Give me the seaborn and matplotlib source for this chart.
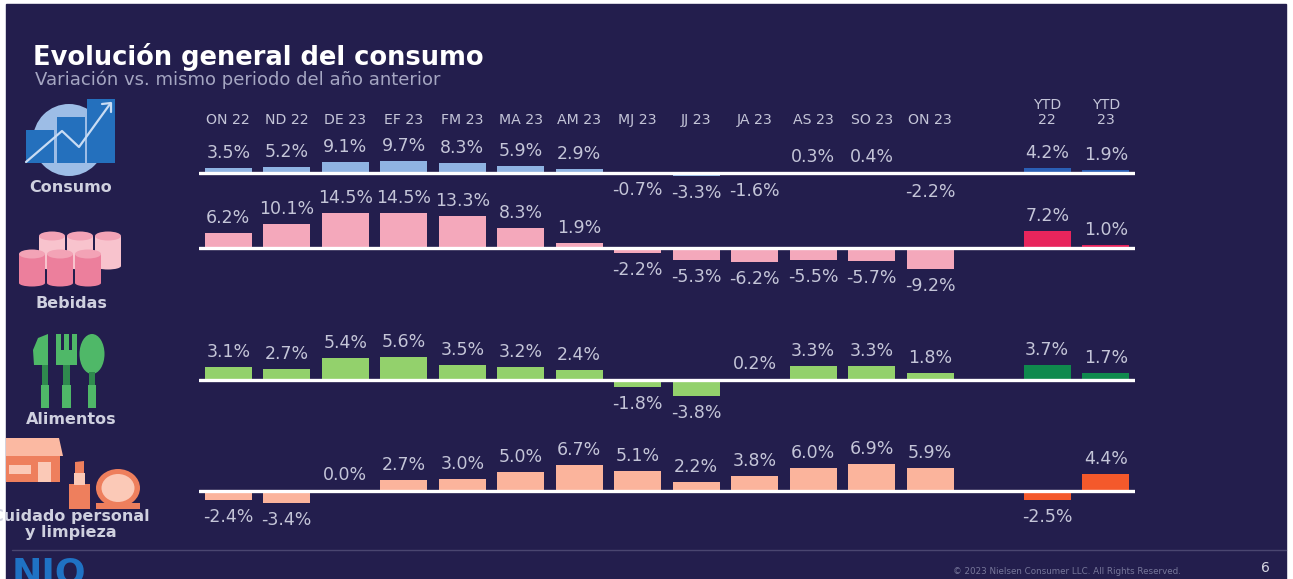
import numpy as np
import pandas as pd
import seaborn as sns
import matplotlib.pyplot as plt
from matplotlib.patches import Rectangle, Circle, Ellipse, Polygon

periodos = ['ON 22', 'ND 22', 'DE 23', 'EF 23', 'FM 23', 'MA 23', 'AM 23', 'MJ 23', 'JJ 23', 'JA 23',
            'AS 23', 'SO 23', 'ON 23', ' ', 'YTD\n22', 'YTD\n23']
consumo = [3.5, 5.2, 9.1, 9.7, 8.3, 5.9, 2.9, -0.7, -3.3, -1.6, 0.3, 0.4, -2.2, np.nan, 4.2, 1.9]
bebidas = [6.2, 10.1, 14.5, 14.5, 13.3, 8.3, 1.9, -2.2, -5.3, -6.2, -5.5, -5.7, -9.2, np.nan, 7.2, 1.0]
alimentos = [3.1, 2.7, 5.4, 5.6, 3.5, 3.2, 2.4, -1.8, -3.8, 0.2, 3.3, 3.3, 1.8, np.nan, 3.7, 1.7]
cuidado = [-2.4, -3.4, 0.0, 2.7, 3.0, 5.0, 6.7, 5.1, 2.2, 3.8, 6.0, 6.9, 5.9, np.nan, -2.5, 4.4]

W, H = 1293, 579
FONDO = '#231e4d'
TEXTO = '#c4c5d8'

sns.set_theme(style='white')
plt.rcParams['font.family'] = ['DejaVu Sans']

fig = plt.figure(figsize=(W / 100, H / 100), dpi=100, facecolor='white')

# capa de fondo en pixeles, para panel, iconos y textos sueltos
bg = fig.add_axes([0, 0, 1, 1], zorder=0)
bg.set_xlim(0, W)
bg.set_ylim(H, 0)
bg.axis('off')
bg.add_patch(Rectangle((6, 4), 1280, 575, color=FONDO, zorder=0))
panel = Rectangle((6, 4), 1280, 575, transform=bg.transData)


def caja(x0, y0, x1, y1, color, z=2):
    bg.add_patch(Rectangle((x0, y0), x1 - x0, y1 - y0, color=color, lw=0, zorder=z))


def cilindro(cx, y0, y1, color, tapa):
    caja(cx - 13, y0, cx + 13, y1, color)
    bg.add_patch(Ellipse((cx, y1), 26, 7, color=color, lw=0, zorder=2))
    bg.add_patch(Ellipse((cx, y0), 26, 9, color=tapa, lw=0, zorder=2))


# icono consumo
bg.add_patch(Circle((69, 140), 36, color='#9dbde6', lw=0, zorder=1))
caja(26, 130, 54, 163, '#2470bd')
caja(57, 117, 85, 163, '#2470bd')
caja(87, 99, 115, 163, '#2470bd')
bg.plot([26, 62, 79, 110], [162, 131, 147, 104], color='#c9dcf3', lw=1.6, zorder=3)
bg.plot([102, 111, 111], [104, 103, 112], color='#c9dcf3', lw=1.6, zorder=3)

# icono bebidas
for cx in [52, 80, 108]:
    cilindro(cx, 236, 266, '#f8c3cd', '#f3a3b6')
for cx in [32, 60, 88]:
    cilindro(cx, 254, 283, '#ec7f9c', '#f3a3b6')

# icono alimentos
verde, verde2 = '#4fb868', '#2f8a4e'
bg.add_patch(Polygon([[48, 334], [48, 365], [34, 365], [33, 350], [38, 338]], color=verde, lw=0, zorder=2))
caja(42, 365, 48, 385, verde2)
caja(41, 385, 49, 408, verde)
caja(56, 350, 77, 365, verde)
for x0 in [56, 64, 72]:
    caja(x0, 334, x0 + 5, 352, verde)
caja(63, 365, 70, 385, verde2)
caja(62, 385, 71, 408, verde)
bg.add_patch(Ellipse((92, 354), 25, 40, color=verde, lw=0, zorder=2))
caja(89, 372, 95, 386, verde2)
caja(88, 385, 96, 408, verde)

# icono cuidado personal
naranja = '#ee7f5d'
bg.add_patch(Polygon([[6, 438], [59, 438], [63, 456], [6, 456]], color='#fbb9a2', lw=0, zorder=2))
caja(6, 456, 60, 482, naranja)
caja(9, 465, 31, 474, '#fbc9b7', 3)
caja(38, 462, 51, 482, '#fbc9b7', 3)
caja(69, 484, 90, 509, naranja)
caja(74, 473, 85, 485, '#fbc9b7')
bg.add_patch(Polygon([[75, 473], [75, 462], [84, 461], [84, 473]], color=naranja, lw=0, zorder=2))
bg.add_patch(Ellipse((118, 488), 44, 38, color=naranja, lw=0, zorder=2))
bg.add_patch(Ellipse((118, 488), 33, 28, color='#fbc9b7', lw=0, zorder=3))
caja(96, 503, 140, 509, naranja, 3)

bg.text(33, 57, 'Evolución general del consumo', color='white', fontsize=18.5, fontweight='bold', va='center')
bg.text(35, 80, 'Variación vs. mismo periodo del año anterior', color='#a5a6c2', fontsize=13, va='center')
for y, nombre in [(187, 'Consumo'), (304, 'Bebidas'), (420, 'Alimentos'), (517, 'Cuidado personal'), (533, 'y limpieza')]:
    t = bg.text(71, y, nombre, color='#cfd0df', fontsize=11.5, fontweight='bold', ha='center', va='center')
    t.set_clip_path(panel)

bg.plot([12, 1286], [550, 550], color='#4a4670', lw=1)
t = bg.text(12, 574, 'NIQ', color='#1f72c4', fontsize=26, fontweight='bold', va='center')
t.set_clip_path(panel)
bg.text(953, 572, '© 2023 Nielsen Consumer LLC. All Rights Reserved.', color='#77779a', fontsize=6.3, va='center')
bg.text(1265, 568, '6', color='#d8d8e4', fontsize=10, ha='center', va='center')

# cada panel: baseline en px, px por punto porcentual, color de barra, color YTD
grupos = [
    (consumo, 172.5, 1.15, '#8fb3e2', '#2a5fb5'),
    (bebidas, 247.5, 2.36, '#f4a8bb', '#e8255c'),
    (alimentos, 380, 4.15, '#93d16c', '#0f8a4d'),
    (cuidado, 490.5, 3.8, '#fbb49c', '#f4592b'),
]

for n, (valores, base, esc, color, ytd) in enumerate(grupos):
    arriba, abajo = 46, 35
    ax = fig.add_axes([199 / W, 1 - (base + abajo) / H, 936 / W, (arriba + abajo) / H], zorder=2)
    ax.patch.set_alpha(0)
    df = pd.DataFrame({'periodo': periodos, 'valor': valores})
    colores = {p: color for p in periodos}
    colores['YTD\n22'] = ytd
    colores['YTD\n23'] = ytd
    sns.barplot(data=df, x='periodo', y='valor', hue='periodo', order=periodos, hue_order=periodos,
                palette=colores, width=0.8, saturation=1, linewidth=0, legend=False, ax=ax)
    ax.set_xlim(-0.5, 15.5)
    ax.set_ylim(-abajo / esc, arriba / esc)
    ax.axhline(0, color='white', lw=2.4, zorder=5)
    sns.despine(ax=ax, left=True, bottom=True)
    ax.set_xlabel('')
    ax.set_ylabel('')
    ax.set_yticks([])
    if n == 0:
        ax.xaxis.tick_top()
        ax.tick_params(axis='x', length=0, pad=2, labelsize=10.2, labelcolor=TEXTO)
        plt.setp(ax.get_xticklabels(), va='baseline', linespacing=1.05)
    else:
        ax.set_xticks([])
    for i, v in enumerate(valores):
        if np.isnan(v):
            continue
        off = 15 if v >= 0 else -17
        ax.annotate(f'{v:.1f}%', (i, v), xytext=(0, off), textcoords='offset pixels', ha='center', va='center',
                    color=TEXTO, fontsize=12.5, annotation_clip=False, zorder=6)

fig.savefig('out.png', dpi=100, facecolor='white')
